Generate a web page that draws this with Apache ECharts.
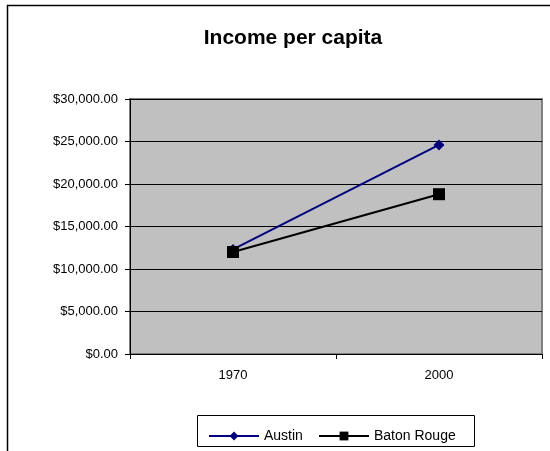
<!DOCTYPE html>
<html>
<head>
<meta charset="utf-8">
<script src="https://cdn.jsdelivr.net/npm/echarts@6/dist/echarts.min.js"></script>
<style>
  html, body { margin: 0; padding: 0; background: #fff; }
  #chart { width: 550px; height: 451px; }
</style>
</head>
<body>
<div id="chart"></div>
<script>
// Per-capita income, two cities, two census years
const years = ['1970', '2000'];
const austin = [12300, 24600];
const batonRouge = [12000, 18800];
const seriesNames = ['Austin', 'Baton Rouge'];
const yTicks = { min: 0, max: 30000, step: 5000 };

const FONT = '"Liberation Sans", Arial, sans-serif';

function money(v) {
  return '$' + v.toLocaleString('en-US', { minimumFractionDigits: 2, maximumFractionDigits: 2 });
}

const chart = echarts.init(document.getElementById('chart'), null, { renderer: 'canvas' });

chart.setOption({
  backgroundColor: '#ffffff',
  animation: false,
  title: {
    text: 'Income per capita',
    left: 288,
    top: 23,
    textAlign: 'center',
    textStyle: { fontFamily: FONT, fontSize: 21, fontWeight: 'bold', color: '#000' }
  },
  grid: {
    left: 130, right: 8, top: 99, bottom: 97,
    show: true,
    backgroundColor: '#c0c0c0',
    borderColor: '#808080',
    borderWidth: 2
  },
  xAxis: {
    type: 'category',
    data: years,
    boundaryGap: true,
    axisLine: { show: true, lineStyle: { color: '#000', width: 1 } },
    axisTick: { show: true, length: 5, alignWithLabel: false, lineStyle: { color: '#000' } },
    axisLabel: { margin: 15, fontFamily: FONT, fontSize: 13, color: '#000' },
    splitLine: { show: false }
  },
  yAxis: {
    type: 'value',
    min: yTicks.min,
    max: yTicks.max,
    interval: yTicks.step,
    axisLine: { show: true, lineStyle: { color: '#000', width: 1 } },
    axisTick: { show: true, length: 5, lineStyle: { color: '#000' } },
    axisLabel: { margin: 12, fontFamily: FONT, fontSize: 13, color: '#000', formatter: money },
    splitLine: { show: true, lineStyle: { color: '#000', width: 1 } }
  },
  legend: [
    {
      data: [seriesNames[0]],
      left: 203, top: 424,
      itemWidth: 50, itemHeight: 11,
      textStyle: { fontFamily: FONT, fontSize: 14, color: '#000' }
    },
    {
      data: [seriesNames[1]],
      left: 313, top: 424,
      itemWidth: 50, itemHeight: 11,
      textStyle: { fontFamily: FONT, fontSize: 14, color: '#000' }
    }
  ],
  graphic: [
    // outer chart frame (top and left edges)
    { type: 'line', shape: { x1: 7, y1: 5.5, x2: 550, y2: 5.5 }, style: { stroke: '#000', lineWidth: 1.5 }, silent: true },
    { type: 'line', shape: { x1: 7.5, y1: 5, x2: 7.5, y2: 451 }, style: { stroke: '#000', lineWidth: 1.5 }, silent: true },
    // legend box
    { type: 'rect', shape: { x: 197.5, y: 415.5, width: 277, height: 31 }, style: { fill: '#fff', stroke: '#000', lineWidth: 1 }, z: -1, silent: true }
  ],
  series: [
    {
      name: seriesNames[0],
      type: 'line',
      data: austin,
      symbol: 'diamond',
      symbolSize: 11,
      itemStyle: { color: '#000080' },
      lineStyle: { color: '#000080', width: 2 },
      z: 3
    },
    {
      name: seriesNames[1],
      type: 'line',
      data: batonRouge,
      symbol: 'rect',
      symbolSize: 12,
      itemStyle: { color: '#000' },
      lineStyle: { color: '#000', width: 2 },
      z: 4
    }
  ]
});
</script>
</body>
</html>
